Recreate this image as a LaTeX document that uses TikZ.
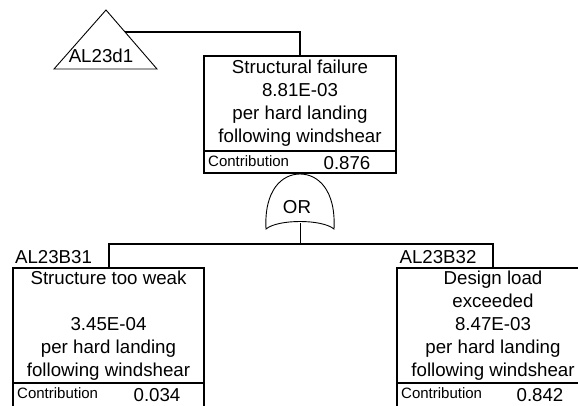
\documentclass[tikz,border=0pt]{standalone}
\usepackage{fontspec}
\setmainfont{Liberation Sans}
\usetikzlibrary{positioning,calc}

\begin{document}
\begin{tikzpicture}[x=1pt,y=-1pt,
      event/.style={draw,line width=2pt,minimum width=192pt,inner sep=0pt,outer sep=0pt,
                    font=\fontsize{18.7}{23}\selectfont,align=center},
      contrib/.style={draw,line width=2pt,minimum width=192pt,minimum height=22pt,inner sep=0pt,outer sep=0pt},
      small/.style={font=\fontsize{15}{18}\selectfont,inner sep=0pt},
      big/.style={font=\fontsize{18.7}{23}\selectfont,inner sep=0pt},
      link/.style={line width=2pt},
      thin/.style={line width=0.9pt}]
      \useasboundingbox (0,0) rectangle (578,406);
      % top event
      \node[event,minimum height=95pt,anchor=north] (top) at (300,56) {Structural failure\\8.81E-03\\per hard landing\\following windshear};
      \node[contrib,anchor=north] (topc) at (top.south) {};
      \node[small,anchor=west] at ([xshift=4pt,yshift=-10pt]topc.north west) {Contribution};
      \node[big] at ([xshift=143pt,yshift=-12pt]topc.north west) {0.876};
      % transfer triangle
      \draw[thin] (106,10) -- (157,69) -- (54,69) -- cycle;
      \node[big] (xfer) at (101,56) {AL23d1};
      \coordinate (xferout) at (125,32);
      \draw[link] (xferout) -| (top.north);
      % OR gate
      \coordinate (gatebase) at (300,223);
      \draw[thin] (266,229) .. controls (264,190) and (282,174) .. (300,174)
                  .. controls (318,174) and (336,190) .. (334,229)
                  .. controls (322,219) and (278,219) .. cycle;
      \node[big] (gate) at (297,207) {OR};
      % basic events
      \node[event,minimum width=191pt,minimum height=115pt,anchor=north] (weak) at (108.5,268) {Structure too weak\\[23pt]3.45E-04\\per hard landing\\following windshear};
      \node[contrib,minimum width=191pt,minimum height=26pt,anchor=north] (weakc) at (weak.south) {};
      \node[small,anchor=west] at ([xshift=4pt,yshift=-10pt]weakc.north west) {Contribution};
      \node[big] at ([xshift=144pt,yshift=-12pt]weakc.north west) {0.034};
      \node[event,minimum height=115pt,anchor=north] (load) at (493,268) {Design load\\exceeded\\8.47E-03\\per hard landing\\following windshear};
      \node[contrib,minimum height=26pt,anchor=north] (loadc) at (load.south) {};
      \node[small,anchor=west] at ([xshift=4pt,yshift=-10pt]loadc.north west) {Contribution};
      \node[big] at ([xshift=143pt,yshift=-12pt]loadc.north west) {0.842};
      \node[big] (id31) at (53.5,257) {AL23B31};
      \node[big] (id32) at (438,257) {AL23B32};
      % connectors
      \coordinate (bus) at (300,244);
      \draw[thin] (gatebase) -- (bus);
      \draw[link] (weak.north) -- ++(0,-24) -| (load.north);
    \end{tikzpicture}
\end{document}
